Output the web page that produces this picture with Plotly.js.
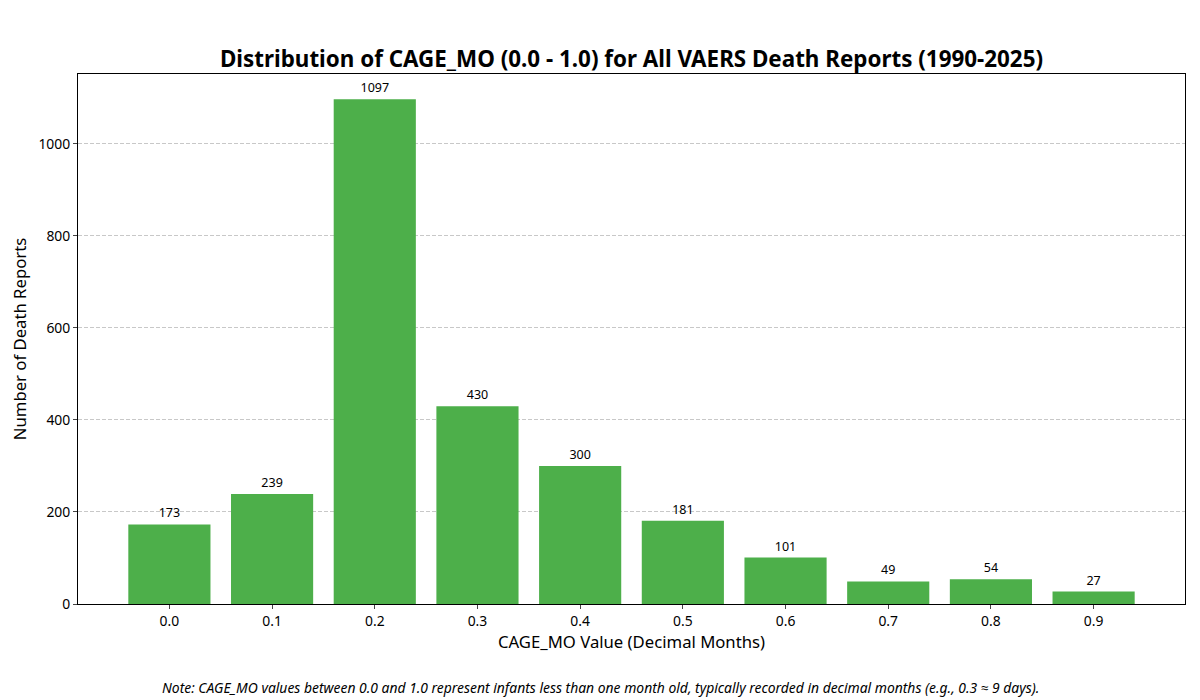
<!DOCTYPE html>
<html>
<head>
<meta charset="utf-8">
<script src="https://cdn.plot.ly/plotly-3.0.1.min.js"></script>
<style>
  body { margin: 0; background: #fff; }
  #chart { width: 1200px; height: 700px; }
</style>
</head>
<body>
<div id="chart"></div>
<script>
// values
const categories = ["0.0", "0.1", "0.2", "0.3", "0.4", "0.5", "0.6", "0.7", "0.8", "0.9"]
const counts = [173, 239, 1097, 430, 300, 181, 101, 49, 54, 27]
const y_ticks = [0, 200, 400, 600, 800, 1000]

const font_family = "Noto Sans, Open Sans, DejaVu Sans, sans-serif"
const positions = categories.map((c, i) => i)

let data = [{
    type: "bar",
    x: positions,
    y: counts,
    width: 0.8,
    marker: {color: "#4daf4a"},
    text: counts.map(v => String(v)),
    textposition: "outside",
    textfont: {size: 12.5, color: "#000"},
    cliponaxis: false,
    hoverinfo: "x+y",
}]

let layout = {
    width: 1200,
    height: 700,
    paper_bgcolor: "#fff",
    plot_bgcolor: "#fff",
    font: {family: font_family, color: "#000"},
    margin: {l: 78, r: 15, t: 74, b: 96},
    showlegend: false,
    bargap: 0.2,
    title: {
        text: "<b>Distribution of CAGE_MO (0.0 - 1.0) for All VAERS Death Reports (1990-2025)</b>",
        font: {size: 22.4, family: font_family},
        xref: "paper",
        x: 0.5,
        xanchor: "center",
        y: 0.916,
        yanchor: "middle",
    },
    xaxis: {
        range: [-0.89, 9.89],
        tickvals: positions,
        ticktext: categories,
        ticks: "outside",
        ticklen: 4,
        tickfont: {size: 13.9},
        showgrid: false,
        zeroline: false,
        showline: true,
        mirror: true,
        linecolor: "#000",
        linewidth: 1,
        title: {text: "CAGE_MO Value (Decimal Months)", font: {size: 16.7}, standoff: 6},
    },
    yaxis: {
        range: [0, 1152],
        tickvals: y_ticks,
        ticks: "outside",
        ticklen: 4,
        tickfont: {size: 13.9},
        showgrid: true,
        gridcolor: "#c8c8c8",
        griddash: "4px,2px",
        gridwidth: 1,
        zeroline: false,
        showline: true,
        mirror: true,
        linecolor: "#000",
        linewidth: 1,
        title: {text: "Number of Death Reports", font: {size: 16.7}, standoff: 7},
    },
    annotations: [{
        text: "<i>Note: CAGE_MO values between 0.0 and 1.0 represent infants less than one month old, typically recorded in decimal months (e.g., 0.3 ≈ 9 days).</i>",
        xref: "paper",
        yref: "paper",
        x: (600 - 78) / 1107,
        y: -0.158,
        xanchor: "center",
        yanchor: "middle",
        showarrow: false,
        font: {size: 13.9, family: font_family},
    }],
}

Plotly.newPlot("chart", data, layout, {staticPlot: true})
</script>
</body>
</html>
